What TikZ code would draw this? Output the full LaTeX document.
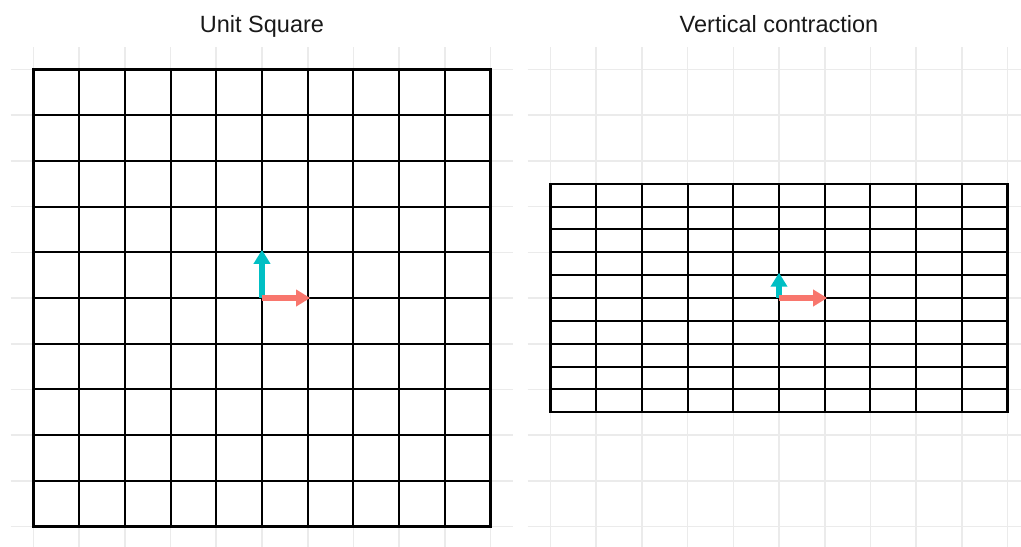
\documentclass[tikz,border=0pt]{standalone}
\usepackage{fontspec}
\setmainfont{Liberation Sans}
\usetikzlibrary{arrows.meta}
\definecolor{gridgray}{HTML}{EBEBEB}
\definecolor{vecred}{HTML}{F8766D}
\definecolor{veccyan}{HTML}{00BFC4}
\begin{document}
\begin{tikzpicture}[x=45.7pt,y=45.7pt,
  bgline/.style={line width=1.6pt,gridgray},
  meshline/.style={line width=2.1pt,black,line cap=rect},
  vecarrow/.style={line width=6pt,shorten >=-2.5pt,-{Triangle[length=14pt,width=16pt]}},
  paneltitle/.style={anchor=base,text=black!90,font=\fontsize{23.5}{28}\selectfont}]
\path[use as bounding box] (-5.7330,-5.4267) rectangle (16.6083,6.5208);
% left panel: background grid
\draw[bgline] (-5.0000,-5.5000) -- (-5.0000,5.5000);
\draw[bgline] (-4.0000,-5.5000) -- (-4.0000,5.5000);
\draw[bgline] (-3.0000,-5.5000) -- (-3.0000,5.5000);
\draw[bgline] (-2.0000,-5.5000) -- (-2.0000,5.5000);
\draw[bgline] (-1.0000,-5.5000) -- (-1.0000,5.5000);
\draw[bgline] (0.0000,-5.5000) -- (0.0000,5.5000);
\draw[bgline] (1.0000,-5.5000) -- (1.0000,5.5000);
\draw[bgline] (2.0000,-5.5000) -- (2.0000,5.5000);
\draw[bgline] (3.0000,-5.5000) -- (3.0000,5.5000);
\draw[bgline] (4.0000,-5.5000) -- (4.0000,5.5000);
\draw[bgline] (5.0000,-5.5000) -- (5.0000,5.5000);
\draw[bgline] (-5.5000,-5.0000) -- (5.5000,-5.0000);
\draw[bgline] (-5.5000,-4.0000) -- (5.5000,-4.0000);
\draw[bgline] (-5.5000,-3.0000) -- (5.5000,-3.0000);
\draw[bgline] (-5.5000,-2.0000) -- (5.5000,-2.0000);
\draw[bgline] (-5.5000,-1.0000) -- (5.5000,-1.0000);
\draw[bgline] (-5.5000,0.0000) -- (5.5000,0.0000);
\draw[bgline] (-5.5000,1.0000) -- (5.5000,1.0000);
\draw[bgline] (-5.5000,2.0000) -- (5.5000,2.0000);
\draw[bgline] (-5.5000,3.0000) -- (5.5000,3.0000);
\draw[bgline] (-5.5000,4.0000) -- (5.5000,4.0000);
\draw[bgline] (-5.5000,5.0000) -- (5.5000,5.0000);
% right panel: background grid
\draw[bgline] (6.3130,-5.5000) -- (6.3130,5.5000);
\draw[bgline] (7.3130,-5.5000) -- (7.3130,5.5000);
\draw[bgline] (8.3130,-5.5000) -- (8.3130,5.5000);
\draw[bgline] (9.3130,-5.5000) -- (9.3130,5.5000);
\draw[bgline] (10.3130,-5.5000) -- (10.3130,5.5000);
\draw[bgline] (11.3130,-5.5000) -- (11.3130,5.5000);
\draw[bgline] (12.3130,-5.5000) -- (12.3130,5.5000);
\draw[bgline] (13.3130,-5.5000) -- (13.3130,5.5000);
\draw[bgline] (14.3130,-5.5000) -- (14.3130,5.5000);
\draw[bgline] (15.3130,-5.5000) -- (15.3130,5.5000);
\draw[bgline] (16.3130,-5.5000) -- (16.3130,5.5000);
\draw[bgline] (5.8130,-5.0000) -- (16.8130,-5.0000);
\draw[bgline] (5.8130,-4.0000) -- (16.8130,-4.0000);
\draw[bgline] (5.8130,-3.0000) -- (16.8130,-3.0000);
\draw[bgline] (5.8130,-2.0000) -- (16.8130,-2.0000);
\draw[bgline] (5.8130,-1.0000) -- (16.8130,-1.0000);
\draw[bgline] (5.8130,0.0000) -- (16.8130,0.0000);
\draw[bgline] (5.8130,1.0000) -- (16.8130,1.0000);
\draw[bgline] (5.8130,2.0000) -- (16.8130,2.0000);
\draw[bgline] (5.8130,3.0000) -- (16.8130,3.0000);
\draw[bgline] (5.8130,4.0000) -- (16.8130,4.0000);
\draw[bgline] (5.8130,5.0000) -- (16.8130,5.0000);
% meshes
\draw[meshline] (-5.0000,-5.0000) grid[xstep=1,ystep=1] (5.0000,5.0000);
\draw[meshline,shift={(11.3130,0)}] (-5.0000,-2.5000) grid[xstep=1,ystep=0.5] (5.0000,2.5000);
% basis vectors
\coordinate (oL) at (0.0000,0.0000);
\coordinate (eL1) at (1.0000,0.0000);
\coordinate (eL2) at (0.0000,1.0000);
\coordinate (oR) at (11.3130,0.0000);
\coordinate (eR1) at (12.3130,0.0000);
\coordinate (eR2) at (11.3130,0.5000);
\draw[vecarrow,veccyan] (oL) -- (eL2);
\draw[vecarrow,vecred] (oL) -- (eL1);
\draw[vecarrow,veccyan] (oR) -- (eR2);
\draw[vecarrow,vecred] (oR) -- (eR1);
% titles
\node[paneltitle] (titleL) at (0.0000,5.8000) {Unit Square};
\node[paneltitle] (titleR) at (11.3130,5.8000) {Vertical contraction};
\end{tikzpicture}
\end{document}
